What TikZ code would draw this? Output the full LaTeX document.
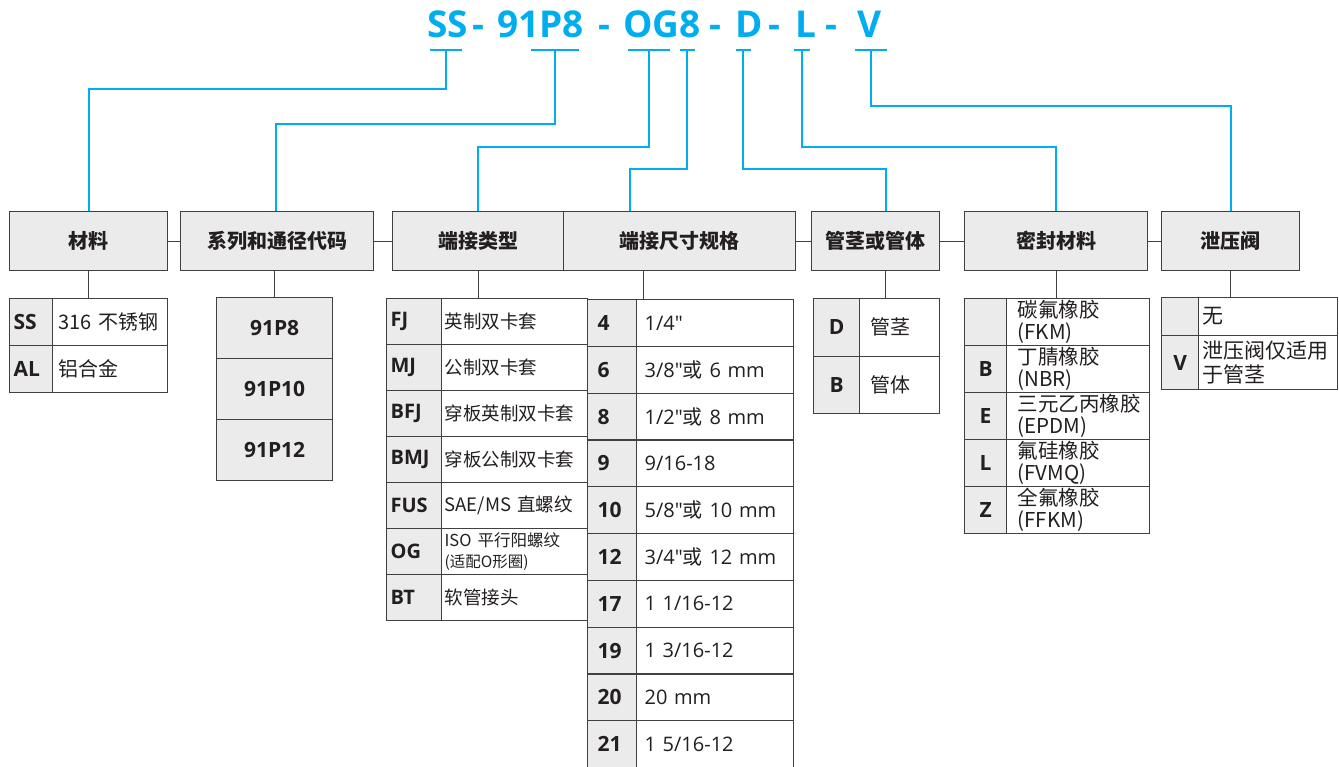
\documentclass[tikz,border=0pt]{standalone}
\usepackage{fontspec}
\setmainfont{Open Sans}
\newfontfamily\cjk{Noto Sans CJK SC}
\newfontfamily\plainsans{Open Sans}
\newcommand\zh[1]{{\cjk #1}}
\newcommand\inch{{\plainsans"}}
\usetikzlibrary{positioning}
\definecolor{codeblue}{RGB}{0,174,239}
\definecolor{boxgray}{RGB}{235,235,235}
\definecolor{edgegray}{RGB}{64,64,64}
\definecolor{inkgray}{RGB}{35,31,32}

\begin{document}
\begin{tikzpicture}[x=1pt, y=-1pt,
  part/.style={anchor=base west, inner sep=0pt, text=codeblue, font=\bfseries\fontsize{37}{40}\selectfont},
  hdr/.style={draw=edgegray, fill=boxgray, line width=1.2pt, anchor=north west, minimum height=59pt, inner sep=0pt, text=inkgray, font=\cjk\bfseries\fontsize{20}{24}\selectfont},
  cell/.style={draw=edgegray, line width=1.2pt, anchor=north west, inner ysep=0pt, text=inkgray, align=left},
  codecell/.style={cell, fill=boxgray, font=\bfseries\fontsize{21}{24}\selectfont},
  desccell/.style={cell, fill=white, font=\cjk\fontsize{20}{22}\selectfont},
  bline/.style={draw=codeblue, line width=2pt},
  gline/.style={draw=edgegray, line width=1.2pt},
]
\useasboundingbox (0,0) rectangle (1339,766);

% model code
\foreach \txt/\xx [count=\i] in {SS/427, -/472, 91P8/497, -/598, OG8/623, -/709, D/735, -/768, L/795, -/825, V/857}
  \node[part] (t\i) at (\xx,37) {\txt};

% header row
\node[hdr, minimum width=158pt] (hd-mat) at (9,211) {材料};
\node[hdr, minimum width=193pt] (hd-ser) at (180,211) {系列和通径代码};
\node[hdr, minimum width=171pt] (hd-type) at (392,211) {端接类型};
\node[hdr, minimum width=232pt] (hd-size) at (563,211) {端接尺寸规格};
\node[hdr, minimum width=128pt] (hd-tube) at (811,211) {管茎或管体};
\node[hdr, minimum width=183pt] (hd-seal) at (964,211) {密封材料};
\node[hdr, minimum width=138pt] (hd-vent) at (1161,211) {泄压阀};

\draw[gline] (hd-mat) -- (hd-ser);
\draw[gline] (hd-ser) -- (hd-type);
\draw[gline] (hd-size) -- (hd-tube);
\draw[gline] (hd-tube) -- (hd-seal);
\draw[gline] (hd-seal) -- (hd-vent);

% ticks under the code and leaders to the headers
\foreach \nm/\xc/\wd/\yt/\tgt/\sh in {ss/446/32/89/hd-mat/0, ser/555/48/124/hd-ser/-1, og/649/42/147/hd-type/0, sz/687/15/169/hd-size/-50, d/743/15/169/hd-tube/10, l/802/16/147/hd-seal/0, v/871/32/106/hd-vent/0}
{
  \coordinate (tk-\nm) at (\xc,50);
  \draw[bline] ([xshift=-\wd/2]tk-\nm) -- ([xshift=\wd/2]tk-\nm);
  \draw[bline] (tk-\nm) -- (\xc,\yt) -| ([xshift=\sh]\tgt.north);
}

% material
\foreach \cd/\ds [count=\i] in {SS/316 不锈钢, AL/铝合金} {
  \node[codecell, minimum height=47pt, text width=35pt, inner xsep=4pt] (mat-c\i) at (9,{298+47*(\i-1)}) {\cd};
  \node[desccell, minimum height=47pt, text width=103pt, inner xsep=6pt] (mat-d\i) at (52,{298+47*(\i-1)}) {\ds};
}
\draw[gline] (hd-mat.south) -- (hd-mat.south |- mat-c1.north);

% series
\foreach \cd [count=\i] in {91P8, 91P10, 91P12}
  \node[codecell, minimum width=116pt, minimum height=61pt, inner sep=0pt] (ser-\i) at (216,{297+61*(\i-1)}) {\cd};
\draw[gline] (ser-1.north) -- (ser-1.north |- hd-ser.south);

% end connection type
\foreach \cd/\ds [count=\i] in {FJ/英制双卡套, MJ/公制双卡套, BFJ/穿板英制双卡套, BMJ/穿板公制双卡套, FUS/{SAE/MS 直螺纹}, OG/{{\fontsize{16.5}{20}\selectfont ISO 平行阳螺纹}\\{\fontsize{15.5}{18}\selectfont (适配O形圈)}}, BT/软管接头} {
  \node[codecell, font=\bfseries\fontsize{20}{24}\selectfont, minimum height=46pt, text width=47pt, inner xsep=4pt] (tp-c\i) at (386,{298+46*(\i-1)}) {\cd};
  \node[desccell, font=\cjk\fontsize{18.5}{21}\selectfont, minimum height=46pt, text width=140pt, inner xsep=3pt] (tp-d\i) at (441,{298+46*(\i-1)}) {\ds};
}
\draw[gline] (hd-type.south) -- (hd-type.south |- tp-c1.north);

% end connection size
\foreach \cd/\ds [count=\i] in {4/{1/4\inch}, 6/{3/8\inch\zh{或} 6 mm}, 8/{1/2\inch\zh{或} 8 mm}, 9/{9/16-18}, 10/{5/8\inch\zh{或} 10 mm}, 12/{3/4\inch\zh{或} 12 mm}, 17/{1 1/16-12}, 19/{1 3/16-12}, 20/{20 mm}, 21/{1 5/16-12}} {
  \node[codecell, minimum height=46.8pt, text width=29pt, inner xsep=10pt] (sz-c\i) at (587,{299+46.8*(\i-1)}) {\cd};
  \node[desccell, font=\fontsize{20}{22}\selectfont, minimum height=46.8pt, text width=141pt, inner xsep=8pt] (sz-d\i) at (636,{299+46.8*(\i-1)}) {\ds};
}
\draw[gline] ([xshift=-36pt]hd-size.south) -- ([xshift=-36pt]hd-size.south |- sz-c1.north);

% tube stub or body
\foreach \cd/\ds [count=\i] in {D/管茎, B/管体} {
  \node[codecell, align=center, minimum height=57.5pt, text width=38pt, inner xsep=4pt] (tb-c\i) at (813,{298+57.5*(\i-1)}) {\cd};
  \node[desccell, minimum height=57.5pt, text width=58pt, inner xsep=11pt] (tb-d\i) at (859,{298+57.5*(\i-1)}) {\ds};
}
\draw[gline] ([xshift=10pt]hd-tube.south) -- ([xshift=10pt]hd-tube.south |- tb-c1.north);

% seal material
\foreach \cd/\ds [count=\i] in {{}/{碳氟橡胶\\(FKM)}, B/{丁腈橡胶\\(NBR)}, E/{三元乙丙橡胶\\(EPDM)}, L/{氟硅橡胶\\(FVMQ)}, Z/{全氟橡胶\\(FFKM)}} {
  \node[codecell, align=center, minimum height=47pt, text width=34pt, inner xsep=4pt] (sl-c\i) at (964,{298+47*(\i-1)}) {\cd};
  \node[desccell, font=\cjk\fontsize{20.5}{22}\selectfont, minimum height=47pt, text width=121pt, inner xsep=11pt] (sl-d\i) at (1006,{298+47*(\i-1)}) {\ds};
}
\draw[gline] (hd-seal.south) -- (hd-seal.south |- sl-c1.north);

% vent valve
\node[codecell, align=center, minimum height=38pt, text width=29pt, inner xsep=4pt] (vt-c1) at (1161,297) {};
\node[desccell, font=\cjk\fontsize{21}{24}\selectfont, minimum height=38pt, text width=131pt, inner xsep=4pt] (vt-d1) at (1198,297) {无};
\node[codecell, align=center, minimum height=54pt, text width=29pt, inner xsep=4pt] (vt-c2) at (1161,335) {V};
\node[desccell, font=\cjk\fontsize{21}{24}\selectfont, minimum height=54pt, text width=131pt, inner xsep=4pt] (vt-d2) at (1198,335) {泄压阀仅适用\\于管茎};
\draw[gline] (hd-vent.south) -- (hd-vent.south |- vt-c1.north);
\end{tikzpicture}
\end{document}
